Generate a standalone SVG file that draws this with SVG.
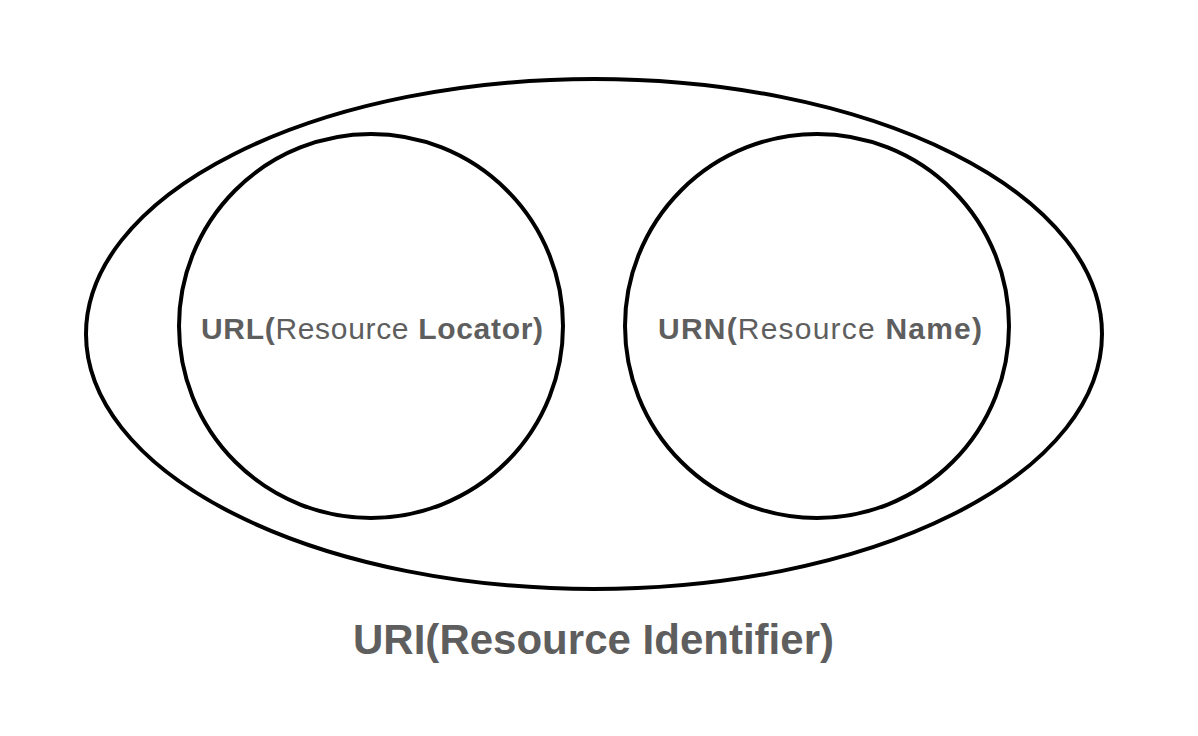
<svg xmlns="http://www.w3.org/2000/svg" width="1198" height="736" viewBox="0 0 1198 736">
<style>
.shape{fill:none;stroke:#000;stroke-width:4}
.t{font-family:"Liberation Sans",Arial,sans-serif;fill:#5e5e5e}
.b{font-weight:bold}
</style>
<rect width="1198" height="736" fill="#fff"/>
<g id="uri">
<ellipse class="shape" cx="594" cy="334" rx="508" ry="255"/>
<text class="t b" x="593.5" y="654" font-size="42" text-anchor="middle" textLength="481" lengthAdjust="spacing">URI(Resource Identifier)</text>
</g>
<g id="url">
<circle class="shape" cx="371" cy="326" r="192"/>
<text class="t" x="372" y="339" font-size="30" text-anchor="middle" textLength="342" lengthAdjust="spacing"><tspan class="b">URL(</tspan>Resource <tspan class="b">Locator)</tspan></text>
</g>
<g id="urn">
<circle class="shape" cx="817" cy="326" r="192"/>
<text class="t" x="820" y="339" font-size="30" text-anchor="middle" textLength="324" lengthAdjust="spacing"><tspan class="b">URN(</tspan>Resource <tspan class="b">Name)</tspan></text>
</g>
<g id="connectors"/>
</svg>
